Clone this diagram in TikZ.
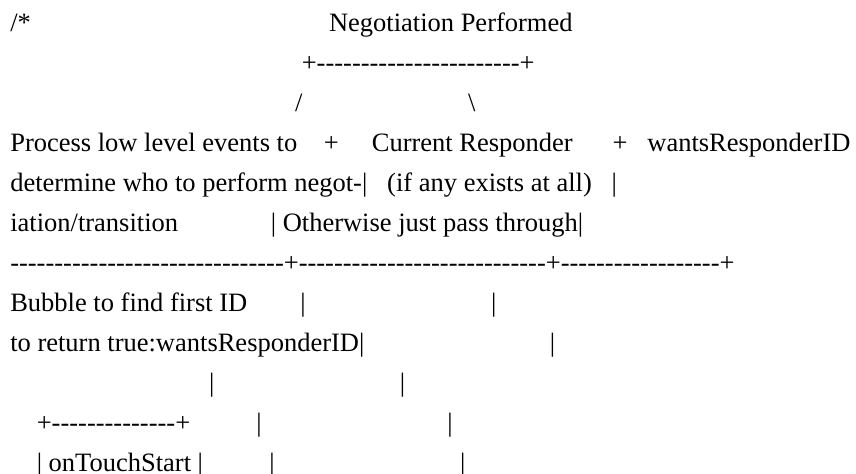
\documentclass[tikz,border=0pt]{standalone}
\usepackage{fontspec}
\newfontfamily\artfont{Liberation Serif}
\newcommand{\sk}[1]{\hspace*{#1\fontdimen2\font}}
\newcommand{\dsh}[1]{\foreach \j in {1,...,#1}{-}}
\tikzset{
  art/.style={anchor=base west, inner sep=0pt, text=black,
    font=\artfont\fontsize{19.875pt}{24pt}\selectfont}
}
\begin{document}
\begin{tikzpicture}[x=0.75pt,y=-0.75pt]
\fill[white] (0,0) rectangle (856,474);
\useasboundingbox (0,0) rectangle (856,474);
\node[art] (l0) at (10,31.5) {/*\sk{45}Negotiation Performed};
\node[art] (l1) at (10,71.5) {\sk{44}+\dsh{23}+};
\node[art] (l2) at (10,111.5) {\sk{43}/\sk{25}\textbackslash};
\node[art] (l3) at (10,151.5) {Process low level events to\sk{4}+\sk{5}Current Responder\sk{6}+\sk{3}wantsResponderID};
\node[art] (l4) at (10,191.5) {determine who to perform negot-|\sk{3}(if any exists at all)\sk{3}|};
\node[art] (l5) at (10,231.5) {iation/transition\sk{14}| Otherwise just pass through|};
\node[art] (l6) at (10,271.5) {\dsh{31}+\dsh{28}+\dsh{18}+};
\node[art] (l7) at (10,311.5) {Bubble to find first ID\sk{8}|\sk{28}|};
\node[art] (l8) at (10,351.5) {to return true:wantsResponderID|\sk{28}|};
\node[art] (l9) at (10,391.5) {\sk{30}|\sk{28}|};
\node[art] (l10) at (10,431.5) {\sk{4}+\dsh{14}+\sk{10}|\sk{28}|};
\node[art] (l11) at (10,471.5) {\sk{4}| onTouchStart |\sk{10}|\sk{28}|};
\end{tikzpicture}
\end{document}
